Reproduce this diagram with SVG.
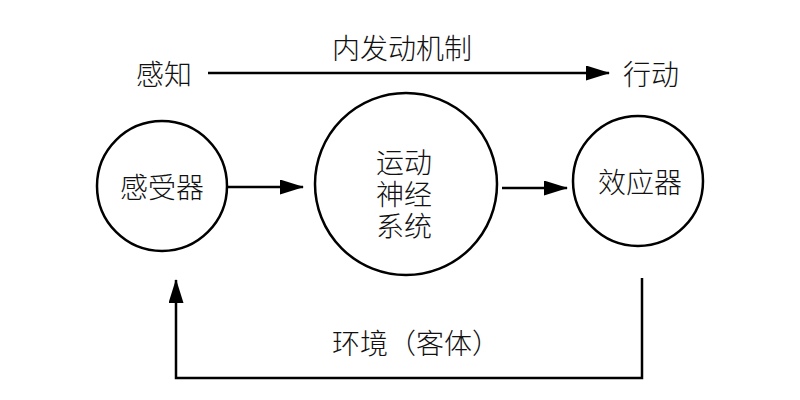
<svg xmlns="http://www.w3.org/2000/svg" width="800" height="400" viewBox="0 0 800 400">
<style>
text{font-family:"Noto Sans CJK SC","Noto Sans",sans-serif;font-size:28px;font-weight:300;fill:#111;text-anchor:middle;dominant-baseline:central}
.c{fill:#fff;stroke:#000;stroke-width:2.5}
.l{fill:none;stroke:#000;stroke-width:2.5}
</style>
<defs>
<marker id="ah" markerUnits="userSpaceOnUse" markerWidth="24" markerHeight="16" refX="23" refY="7.5" orient="auto"><path d="M0,0 L24,7.5 L0,15 Z" fill="#000"/></marker>
</defs>
<rect width="800" height="400" fill="#fff"/>
<g id="connectors">
<line class="l" x1="208" y1="73" x2="609" y2="73" marker-end="url(#ah)"/>
<line class="l" x1="227" y1="187" x2="303" y2="187" marker-end="url(#ah)"/>
<line class="l" x1="502" y1="188" x2="567" y2="188" marker-end="url(#ah)"/>
<polyline class="l" points="642,278 642,378 176,378 176,280" marker-end="url(#ah)"/>
</g>
<g id="perception"><text x="164" y="73">感知</text></g>
<g id="mechanism"><text x="402" y="47">内发动机制</text></g>
<g id="action"><text x="651" y="73">行动</text></g>
<g id="receptor"><circle class="c" cx="162" cy="186" r="65"/><text x="162" y="186">感受器</text></g>
<g id="motor"><circle class="c" cx="406" cy="184" r="91"/><text x="404" y="161">运动<tspan x="404" dy="32">神经</tspan><tspan x="404" dy="32">系统</tspan></text></g>
<g id="effector"><circle class="c" cx="638" cy="181" r="65"/><text x="640" y="181">效应器</text></g>
<g id="environment"><text x="416" y="342">环境（客体）</text></g>
</svg>
